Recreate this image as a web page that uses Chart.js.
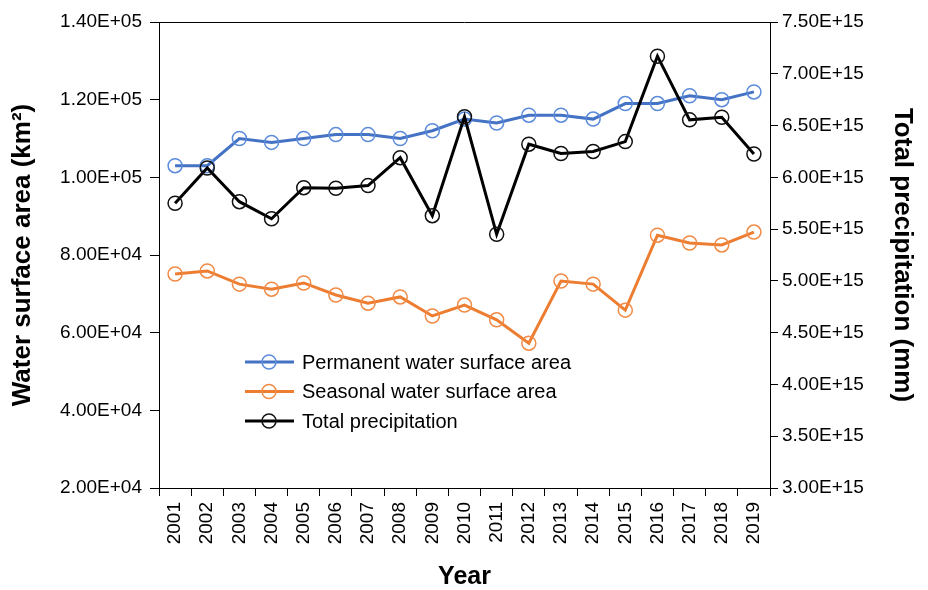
<!DOCTYPE html>
<html>
<head>
<meta charset="utf-8">
<script src="https://cdn.jsdelivr.net/npm/chart.js@4.4.1/dist/chart.umd.min.js"></script>
<style>
  html, body { margin: 0; padding: 0; background: #fff; }
  #wrap { width: 928px; height: 590px; }
</style>
</head>
<body>
<div id="wrap"><canvas id="grafico"></canvas></div>
<script>
// dados
const anos = ['2001', '2002', '2003', '2004', '2005', '2006', '2007', '2008', '2009', '2010',
  '2011', '2012', '2013', '2014', '2015', '2016', '2017', '2018', '2019'];

const areaPermanente = [103000, 103000, 110000, 109000, 110000, 111000, 111000, 110000, 112000, 115000,
  114000, 116000, 116000, 115000, 119000, 119000, 121000, 120000, 122000];

const areaSazonal = [75100, 75900, 72500, 71200, 72800, 69700, 67600, 69200, 64300, 67100,
  63300, 57300, 73300, 72500, 65800, 85100, 83100, 82600, 85900];

const precipitacao = [5.75e15, 6.09e15, 5.765e15, 5.60e15, 5.90e15, 5.895e15, 5.92e15, 6.19e15, 5.63e15, 6.585e15,
  5.45e15, 6.32e15, 6.23e15, 6.25e15, 6.345e15, 7.17e15, 6.555e15, 6.58e15, 6.225e15];

const nomesSeries = ['Permanent water surface area', 'Seasonal water surface area', 'Total precipitation'];

const FONTE = '"Liberation Sans", Arial, sans-serif';

// formata no estilo do Excel: 1.40E+05
function formatoCientifico(v) {
  const partes = v.toExponential(2).split('e');
  const sinal = partes[1][0];
  const exp = partes[1].slice(1).padStart(2, '0');
  return partes[0] + 'E' + sinal + exp;
}

// moldura de cima (o grafico original tem a caixa fechada)
const moldura = {
  id: 'moldura',
  afterDraw(chart) {
    const a = chart.chartArea;
    const ctx = chart.ctx;
    ctx.save();
    ctx.strokeStyle = '#000';
    ctx.lineWidth = 1;
    ctx.beginPath();
    ctx.moveTo(a.left, a.top + 0.5);
    ctx.lineTo(a.right, a.top + 0.5);
    ctx.stroke();
    ctx.restore();
  }
};

// legenda dentro da area do grafico
const legendaInterna = {
  id: 'legendaInterna',
  afterDatasetsDraw(chart) {
    const ctx = chart.ctx;
    const x0 = 245;
    let y = 362;
    ctx.save();
    chart.data.datasets.forEach((ds) => {
      ctx.strokeStyle = ds.borderColor;
      ctx.lineWidth = 3;
      ctx.beginPath();
      ctx.moveTo(x0, y);
      ctx.lineTo(x0 + 49, y);
      ctx.stroke();

      // circulo vazado, a linha aparece por dentro
      ctx.strokeStyle = ds.pointBorderColor;
      ctx.lineWidth = 1.5;
      ctx.beginPath();
      ctx.arc(x0 + 24, y, 7, 0, Math.PI * 2);
      ctx.stroke();

      ctx.fillStyle = '#000';
      ctx.font = '20px ' + FONTE;
      ctx.textBaseline = 'middle';
      ctx.textAlign = 'left';
      ctx.fillText(ds.label, x0 + 57, y + 1);
      y += 29.5;
    });
    ctx.restore();
  }
};

function criarGrafico() {
  const ctx = document.getElementById('grafico');

  const data = {
    labels: anos,
    datasets: [
      {
        label: nomesSeries[0],
        data: areaPermanente,
        yAxisID: 'y',
        borderColor: '#4472C4',
        borderWidth: 3,
        pointRadius: 7,
        pointHoverRadius: 7,
        pointBorderWidth: 1.5,
        pointBorderColor: '#5B8BDA',
        pointBackgroundColor: 'rgba(255,255,255,0)',
        tension: 0,
        order: 2,
      },
      {
        label: nomesSeries[1],
        data: areaSazonal,
        yAxisID: 'y',
        borderColor: '#ED7D31',
        borderWidth: 3,
        pointRadius: 7,
        pointHoverRadius: 7,
        pointBorderWidth: 1.5,
        pointBorderColor: '#F08A45',
        pointBackgroundColor: 'rgba(255,255,255,0)',
        tension: 0,
        order: 1,
      },
      {
        label: nomesSeries[2],
        data: precipitacao,
        yAxisID: 'y1',
        borderColor: '#000',
        borderWidth: 3,
        pointRadius: 7,
        pointHoverRadius: 7,
        pointBorderWidth: 1.5,
        pointBorderColor: '#111',
        pointBackgroundColor: 'rgba(255,255,255,0)',
        tension: 0,
        order: 0,
      },
    ],
  };

  const options = {
    responsive: false,
    animation: false,
    devicePixelRatio: 1,
    layout: { padding: { top: 22, left: 0, right: 0, bottom: 0 } },
    plugins: {
      legend: { display: false },
      tooltip: { enabled: false },
    },
    scales: {
      x: {
        type: 'category',
        offset: true,
        grid: { display: true, offset: true, drawOnChartArea: false, color: '#000', tickLength: 8 },
        border: { display: true, color: '#000', width: 1 },
        ticks: {
          color: '#000',
          font: { family: FONTE, size: 19 },
          minRotation: 90,
          maxRotation: 90,
          autoSkip: false,
          padding: 6,
        },
        title: {
          display: true,
          text: 'Year',
          color: '#000',
          font: { family: FONTE, size: 25, weight: 'bold', lineHeight: 1 },
          padding: { top: 0, bottom: 0 },
        },
        afterFit: (scale) => { scale.height = 102; },
      },
      y: {
        position: 'left',
        min: 20000,
        max: 140000,
        grid: { display: true, drawOnChartArea: false, color: '#000', tickLength: 9 },
        border: { display: true, color: '#000', width: 1 },
        ticks: {
          stepSize: 20000,
          color: '#000',
          font: { family: FONTE, size: 19 },
          padding: 8,
          callback: (v) => formatoCientifico(v),
        },
        title: {
          display: true,
          text: 'Water surface area (km²)',
          color: '#000',
          font: { family: FONTE, size: 26, weight: 'bold', lineHeight: 1 },
          padding: { top: 10, bottom: 0 },
        },
        afterFit: (scale) => { scale.width = 159; },
      },
      y1: {
        position: 'right',
        min: 3e15,
        max: 7.5e15,
        grid: { display: true, drawOnChartArea: false, color: '#000', tickLength: 8 },
        border: { display: true, color: '#000', width: 1 },
        ticks: {
          stepSize: 5e14,
          color: '#000',
          font: { family: FONTE, size: 19 },
          padding: 4,
          callback: (v) => formatoCientifico(v),
        },
        title: {
          display: true,
          text: 'Total precipitation (mm)',
          color: '#000',
          font: { family: FONTE, size: 26, weight: 'bold', lineHeight: 1 },
          padding: { top: 13, bottom: 0 },
        },
        afterFit: (scale) => { scale.width = 158; },
      },
    },
  };

  return new Chart(ctx, {
    type: 'line',
    data: data,
    options: options,
    plugins: [moldura, legendaInterna],
  });
}

const cv = document.getElementById('grafico');
cv.width = 928;
cv.height = 590;
criarGrafico();
</script>
</body>
</html>
